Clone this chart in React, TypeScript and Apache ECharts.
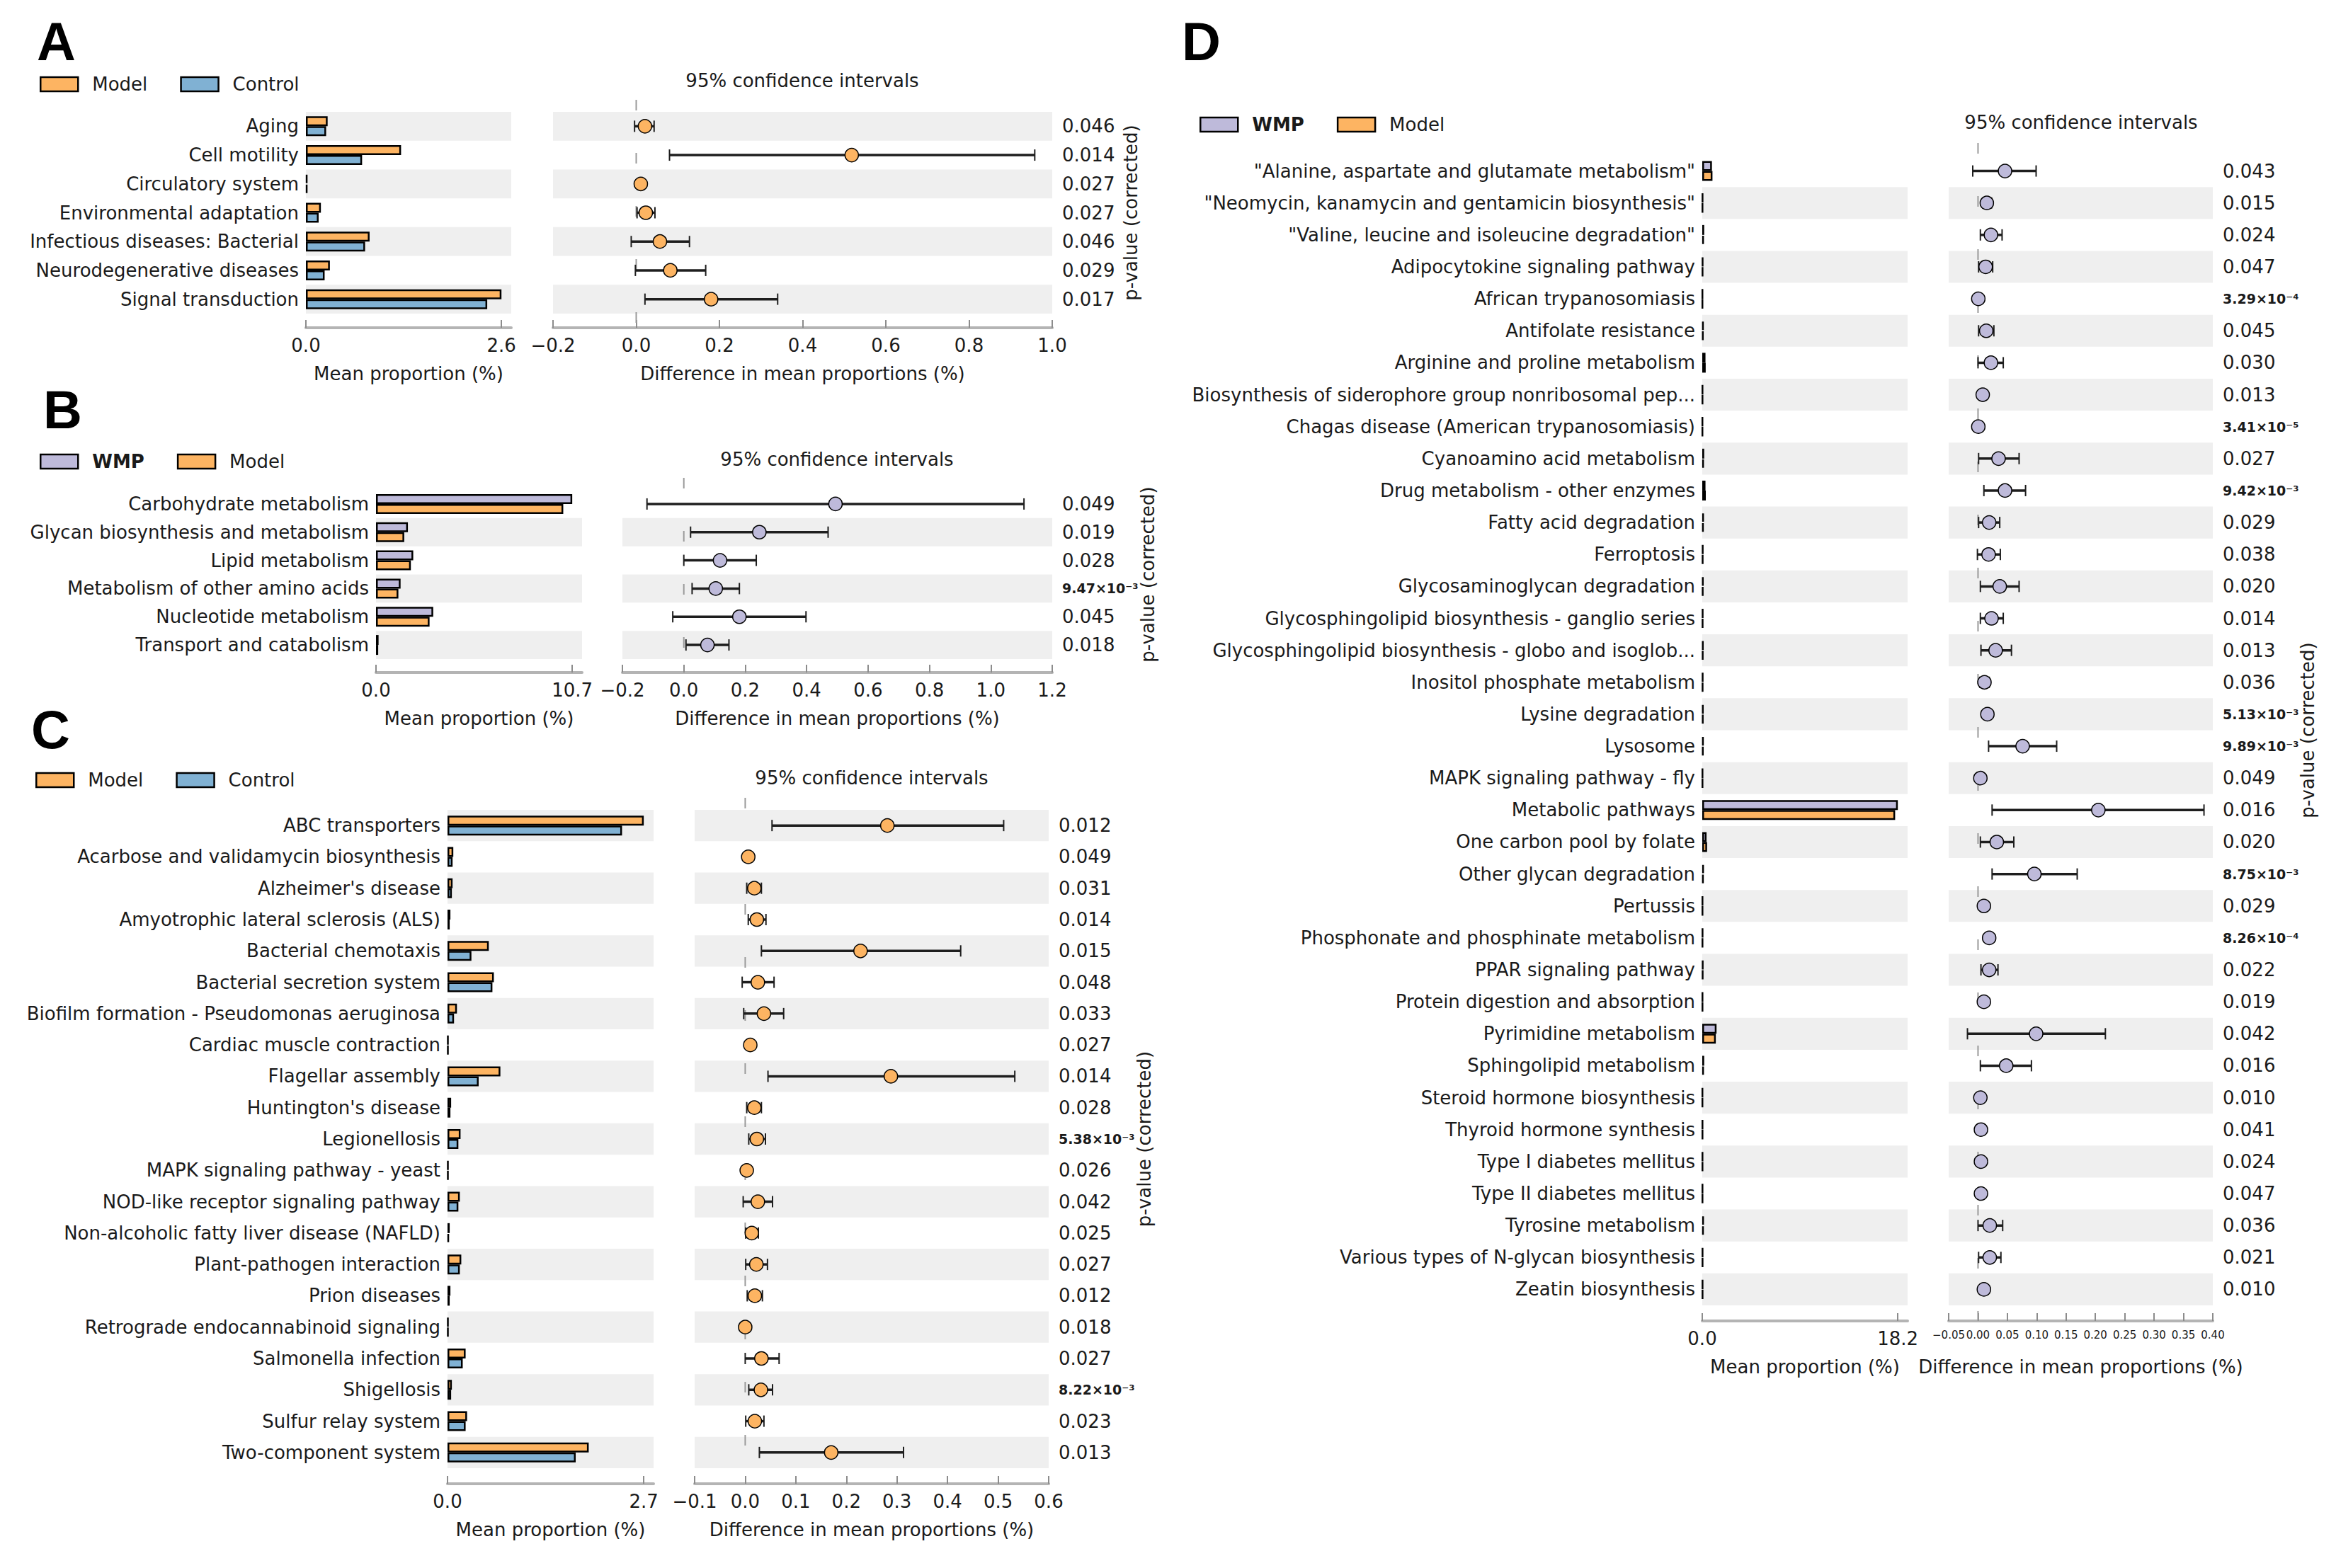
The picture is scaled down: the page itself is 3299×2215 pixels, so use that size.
import React, { useEffect, useRef } from "react";
import * as echarts from "echarts";

// ---------------- Panel A: Model vs Control (level 2) ----------------
const aCategories = [
  "Aging",
  "Cell motility",
  "Circulatory system",
  "Environmental adaptation",
  "Infectious diseases: Bacterial",
  "Neurodegenerative diseases",
  "Signal transduction",
];
const aModel = [0.29, 1.27, 0.02, 0.2, 0.85, 0.32, 2.61];
const aControl = [0.27, 0.75, 0.02, 0.17, 0.79, 0.25, 2.42];
const aDiff = [0.021, 0.518, 0.011, 0.023, 0.057, 0.082, 0.18];
const aLow = [-0.004, 0.08, 0.005, 0.002, -0.012, -0.002, 0.021];
const aHigh = [0.043, 0.958, 0.017, 0.045, 0.128, 0.167, 0.34];
const aPValues = ["0.046", "0.014", "0.027", "0.027", "0.046", "0.029", "0.017"];
const aCiScale = [-0.2, 1.0, 0.2];

// ---------------- Panel B: WMP vs Model (level 2) ----------------
const bCategories = [
  "Carbohydrate metabolism",
  "Glycan biosynthesis and metabolism",
  "Lipid metabolism",
  "Metabolism of other amino acids",
  "Nucleotide metabolism",
  "Transport and catabolism",
];
const bWmp = [10.7, 1.74, 2.03, 1.34, 3.12, 0.14];
const bModel = [10.21, 1.54, 1.9, 1.22, 2.92, 0.12];
const bDiff = [0.494, 0.246, 0.118, 0.104, 0.181, 0.077];
const bLow = [-0.12, 0.022, 0.0, 0.027, -0.036, 0.007];
const bHigh = [1.108, 0.47, 0.236, 0.181, 0.398, 0.147];
const bPValues = ["0.049", "0.019", "0.028", "9.47×10⁻³", "0.045", "0.018"];
const bCiScale = [-0.2, 1.2, 0.2];

// ---------------- Panel C: Model vs Control (level 3) ----------------
const cCategories = [
  "ABC transporters",
  "Acarbose and validamycin biosynthesis",
  "Alzheimer's disease",
  "Amyotrophic lateral sclerosis (ALS)",
  "Bacterial chemotaxis",
  "Bacterial secretion system",
  "Biofilm formation - Pseudomonas aeruginosa",
  "Cardiac muscle contraction",
  "Flagellar assembly",
  "Huntington's disease",
  "Legionellosis",
  "MAPK signaling pathway - yeast",
  "NOD-like receptor signaling pathway",
  "Non-alcoholic fatty liver disease (NAFLD)",
  "Plant-pathogen interaction",
  "Prion diseases",
  "Retrograde endocannabinoid signaling",
  "Salmonella infection",
  "Shigellosis",
  "Sulfur relay system",
  "Two-component system",
];
const cModel = [2.71, 0.08, 0.07, 0.04, 0.57, 0.64, 0.13, 0.01, 0.73, 0.05, 0.18, 0.01, 0.17, 0.03, 0.19, 0.04, 0.01, 0.25, 0.06, 0.27, 1.95];
const cControl = [2.41, 0.07, 0.06, 0.03, 0.33, 0.62, 0.09, 0.01, 0.43, 0.04, 0.15, 0.01, 0.15, 0.02, 0.17, 0.03, 0.01, 0.21, 0.05, 0.25, 1.77];
const cDiff = [0.281, 0.006, 0.018, 0.023, 0.228, 0.025, 0.037, 0.01, 0.288, 0.018, 0.023, 0.003, 0.025, 0.013, 0.022, 0.019, 0.0, 0.032, 0.031, 0.019, 0.17];
const cLow = [0.053, 0.003, 0.003, 0.006, 0.032, -0.006, -0.003, 0.007, 0.045, 0.003, 0.007, 0.001, -0.004, 0.001, 0.001, 0.004, -0.002, 0.0, 0.007, 0.001, 0.028];
const cHigh = [0.511, 0.009, 0.032, 0.041, 0.426, 0.057, 0.076, 0.013, 0.533, 0.032, 0.04, 0.005, 0.054, 0.026, 0.044, 0.034, 0.002, 0.067, 0.054, 0.037, 0.313];
const cPValues = ["0.012", "0.049", "0.031", "0.014", "0.015", "0.048", "0.033", "0.027", "0.014", "0.028", "5.38×10⁻³", "0.026", "0.042", "0.025", "0.027", "0.012", "0.018", "0.027", "8.22×10⁻³", "0.023", "0.013"];
const cCiScale = [-0.1, 0.6, 0.1];

// ---------------- Panel D: WMP vs Model (level 3) ----------------
const dCategories = [
  "\"Alanine, aspartate and glutamate metabolism\"",
  "\"Neomycin, kanamycin and gentamicin biosynthesis\"",
  "\"Valine, leucine and isoleucine degradation\"",
  "Adipocytokine signaling pathway",
  "African trypanosomiasis",
  "Antifolate resistance",
  "Arginine and proline metabolism",
  "Biosynthesis of siderophore group nonribosomal pep...",
  "Chagas disease (American trypanosomiasis)",
  "Cyanoamino acid metabolism",
  "Drug metabolism - other enzymes",
  "Fatty acid degradation",
  "Ferroptosis",
  "Glycosaminoglycan degradation",
  "Glycosphingolipid biosynthesis - ganglio series",
  "Glycosphingolipid biosynthesis - globo and isoglob...",
  "Inositol phosphate metabolism",
  "Lysine degradation",
  "Lysosome",
  "MAPK signaling pathway - fly",
  "Metabolic pathways",
  "One carbon pool by folate",
  "Other glycan degradation",
  "Pertussis",
  "Phosphonate and phosphinate metabolism",
  "PPAR signaling pathway",
  "Protein digestion and absorption",
  "Pyrimidine metabolism",
  "Sphingolipid metabolism",
  "Steroid hormone biosynthesis",
  "Thyroid hormone synthesis",
  "Type I diabetes mellitus",
  "Type II diabetes mellitus",
  "Tyrosine metabolism",
  "Various types of N-glycan biosynthesis",
  "Zeatin biosynthesis",
];
const dWmp = [0.9, 0.05, 0.18, 0.06, 0.03, 0.12, 0.3, 0.04, 0.03, 0.18, 0.3, 0.15, 0.08, 0.1, 0.07, 0.1, 0.07, 0.1, 0.12, 0.04, 18.2, 0.4, 0.15, 0.04, 0.05, 0.08, 0.04, 1.33, 0.18, 0.03, 0.04, 0.04, 0.04, 0.15, 0.05, 0.05];
const dModel = [0.95, 0.04, 0.15, 0.05, 0.03, 0.1, 0.32, 0.04, 0.03, 0.15, 0.33, 0.12, 0.07, 0.08, 0.06, 0.08, 0.06, 0.09, 0.1, 0.04, 17.95, 0.45, 0.12, 0.04, 0.04, 0.07, 0.04, 1.26, 0.15, 0.03, 0.04, 0.04, 0.04, 0.13, 0.05, 0.05];
const dDiff = [0.046, 0.015, 0.022, 0.013, 0.0005, 0.014, 0.022, 0.008, 0.0005, 0.035, 0.046, 0.019, 0.018, 0.037, 0.023, 0.03, 0.011, 0.016, 0.076, 0.004, 0.205, 0.032, 0.096, 0.01, 0.019, 0.019, 0.01, 0.099, 0.048, 0.004, 0.005, 0.005, 0.005, 0.02, 0.02, 0.01];
const dLow = [-0.009, 0.008, 0.004, 0.001, 0.0002, 0.001, 0.0, 0.006, 0.0002, 0.001, 0.01, 0.001, -0.001, 0.004, 0.004, 0.005, 0.003, 0.01, 0.018, 0.002, 0.024, 0.004, 0.024, 0.007, 0.016, 0.005, 0.007, -0.018, 0.004, 0.003, 0.004, 0.004, 0.004, 0.0, 0.001, 0.008];
const dHigh = [0.099, 0.023, 0.041, 0.025, 0.0008, 0.027, 0.043, 0.01, 0.0008, 0.07, 0.081, 0.037, 0.038, 0.07, 0.043, 0.057, 0.019, 0.022, 0.134, 0.006, 0.385, 0.061, 0.169, 0.013, 0.022, 0.034, 0.013, 0.217, 0.091, 0.005, 0.006, 0.006, 0.006, 0.042, 0.039, 0.012];
const dPValues = ["0.043", "0.015", "0.024", "0.047", "3.29×10⁻⁴", "0.045", "0.030", "0.013", "3.41×10⁻⁵", "0.027", "9.42×10⁻³", "0.029", "0.038", "0.020", "0.014", "0.013", "0.036", "5.13×10⁻³", "9.89×10⁻³", "0.049", "0.016", "0.020", "8.75×10⁻³", "0.029", "8.26×10⁻⁴", "0.022", "0.019", "0.042", "0.016", "0.010", "0.041", "0.024", "0.047", "0.036", "0.021", "0.010"];
const dCiScale = [-0.05, 0.4, 0.05];

// ---------------- Styles ----------------
const FONT = "DejaVu Sans";
const ORANGE = "#fdb462";
const BLUE = "#80b1d3";
const PURPLE = "#bebada";
const BAND = "#efefef";
const TEXT = "#1a1a1a";
const SPINE = "#b4b4b4";

const panels = [
  {
    letter: "A",
    cats: aCategories,
    s1: { name: "Model", values: aModel, color: ORANGE, bold: false },
    s2: { name: "Control", values: aControl, color: BLUE, bold: false },
    diff: aDiff, lo: aLow, hi: aHigh, p: aPValues, ci: aCiScale, ciDec: 1, ciFont: 26, meanColor: ORANGE,
    L: { barLeft: 432, barWidth: 290, ciLeft: 781, ciWidth: 705, top: 158, height: 285, spine: 20,
         legendLeft: 56, legendY: 116, ciTitleX: 1133, ciTitleY: 114, letterX: 52, letterY: 58, pLabelX: 1597 },
  },
  {
    letter: "B",
    cats: bCategories,
    s1: { name: "WMP", values: bWmp, color: PURPLE, bold: true },
    s2: { name: "Model", values: bModel, color: ORANGE, bold: false },
    diff: bDiff, lo: bLow, hi: bHigh, p: bPValues, ci: bCiScale, ciDec: 1, ciFont: 26, meanColor: PURPLE,
    L: { barLeft: 531, barWidth: 291, ciLeft: 879, ciWidth: 607, top: 692, height: 239, spine: 19,
         legendLeft: 56, legendY: 649, ciTitleX: 1182, ciTitleY: 649, letterX: 61, letterY: 578, pLabelX: 1621 },
  },
  {
    letter: "C",
    cats: cCategories,
    s1: { name: "Model", values: cModel, color: ORANGE, bold: false },
    s2: { name: "Control", values: cControl, color: BLUE, bold: false },
    diff: cDiff, lo: cLow, hi: cHigh, p: cPValues, ci: cCiScale, ciDec: 1, ciFont: 26, meanColor: ORANGE,
    L: { barLeft: 632, barWidth: 291, ciLeft: 981, ciWidth: 500, top: 1144, height: 930, spine: 22,
         legendLeft: 50, legendY: 1099, ciTitleX: 1231, ciTitleY: 1099, letterX: 44, letterY: 1030, pLabelX: 1616 },
  },
  {
    letter: "D",
    cats: dCategories,
    s1: { name: "WMP", values: dWmp, color: PURPLE, bold: true },
    s2: { name: "Model", values: dModel, color: ORANGE, bold: false },
    diff: dDiff, lo: dLow, hi: dHigh, p: dPValues, ci: dCiScale, ciDec: 2, ciFont: 15, meanColor: PURPLE,
    L: { barLeft: 2404, barWidth: 290, ciLeft: 2752, ciWidth: 373, top: 219, height: 1625, spine: 22,
         legendLeft: 1694, legendY: 173, ciTitleX: 2939, ciTitleY: 173, letterX: 1669, letterY: 58, pLabelX: 3259 },
  },
];

function signed(v: number, d: number) {
  const s = Math.abs(v).toFixed(d);
  return v < -1e-9 ? "\u2212" + s : s;
}

function buildOption() {
  const grid: any[] = [];
  const xAxis: any[] = [];
  const yAxis: any[] = [];
  const series: any[] = [];
  const legend: any[] = [];
  const graphic: any[] = [];

  const axisLine = { show: true, lineStyle: { color: SPINE, width: 4 } };
  const axisTick = { show: true, inside: true, length: 11, lineStyle: { color: "#8c8c8c", width: 2 } };
  const labelStyle = { fontFamily: FONT, fontSize: 26, color: TEXT };

  panels.forEach((p) => {
    const L = p.L;
    const n = p.cats.length;
    const bands = n % 2 === 1 ? [BAND, "rgba(0,0,0,0)"] : ["rgba(0,0,0,0)", BAND];
    const maxMean = Math.max(...p.s1.values, ...p.s2.values);

    const gBar = grid.length;
    grid.push({ left: L.barLeft, top: L.top, width: L.barWidth, height: L.height });
    const gCi = grid.length;
    grid.push({ left: L.ciLeft, top: L.top, width: L.ciWidth, height: L.height });
    const gZero = grid.length;
    grid.push({ left: L.ciLeft, top: L.top - 17, width: L.ciWidth, height: L.height + 17 + L.spine });

    // x axes
    const xBar = xAxis.length;
    xAxis.push({
      type: "value", gridIndex: gBar, min: 0, max: maxMean * 1.05, offset: L.spine,
      axisLine, axisTick: { ...axisTick, customValues: [0, maxMean] },
      splitLine: { show: false },
      axisLabel: { ...labelStyle, margin: 12, customValues: [0, maxMean], formatter: (v: number) => v.toFixed(1) },
      name: "Mean proportion (%)", nameLocation: "middle", nameGap: 52,
      nameTextStyle: { fontFamily: FONT, fontSize: 26, color: TEXT },
    });
    const xCi = xAxis.length;
    xAxis.push({
      type: "value", gridIndex: gCi, min: p.ci[0], max: p.ci[1], interval: p.ci[2], offset: L.spine,
      axisLine, axisTick, splitLine: { show: false },
      axisLabel: {
        ...labelStyle, fontSize: p.ciFont, margin: 12, showMinLabel: true, showMaxLabel: true, hideOverlap: false,
        formatter: (v: number) => signed(v, p.ciDec),
      },
      name: "Difference in mean proportions (%)", nameLocation: "middle", nameGap: 52,
      nameTextStyle: { fontFamily: FONT, fontSize: 26, color: TEXT },
    });
    const xZero = xAxis.length;
    xAxis.push({ type: "value", gridIndex: gZero, min: p.ci[0], max: p.ci[1], show: false });

    // y axes
    const yBar = yAxis.length;
    yAxis.push({
      type: "category", gridIndex: gBar, data: p.cats, inverse: true,
      axisLine: { show: false }, axisTick: { show: false },
      axisLabel: { ...labelStyle, margin: 10, interval: 0 },
      splitLine: { show: false },
      splitArea: { show: true, areaStyle: { color: bands } },
    });
    const yCi = yAxis.length;
    yAxis.push({
      type: "category", gridIndex: gCi, data: p.cats, inverse: true,
      axisLine: { show: false }, axisTick: { show: false }, axisLabel: { show: false },
      splitLine: { show: false },
      splitArea: { show: true, areaStyle: { color: bands } },
    });
    yAxis.push({
      type: "category", gridIndex: gCi, data: p.cats, inverse: true, position: "right",
      axisLine: { show: false }, axisTick: { show: false }, splitLine: { show: false },
      axisLabel: {
        ...labelStyle, margin: 14, interval: 0,
        formatter: (_v: string, i: number) => (p.p[i].indexOf("×") >= 0 ? "{s|" + p.p[i] + "}" : p.p[i]),
        rich: { s: { fontFamily: FONT, fontSize: 19, fontWeight: "bold", color: TEXT } },
      },
    });
    const yZero = yAxis.length;
    yAxis.push({ type: "value", gridIndex: gZero, min: 0, max: 1, show: false });

    // bars
    [p.s1, p.s2].forEach((s) => {
      series.push({
        type: "bar", name: s.name, xAxisIndex: xBar, yAxisIndex: yBar,
        data: s.values, barWidth: 14, barGap: "0%",
        itemStyle: { color: s.color, borderColor: "#000", borderWidth: 2.5 },
        silent: true,
      });
    });

    // zero reference line (dashed), drawn from top to bottom
    series.push({
      type: "line", xAxisIndex: xZero, yAxisIndex: yZero, data: [[0, 1], [0, 0]],
      symbol: "none", lineStyle: { color: "#9a9a9a", width: 2, type: [15, 60] }, silent: true, z: 1,
    });

    // confidence interval bars
    series.push({
      type: "custom", xAxisIndex: xCi, yAxisIndex: yCi,
      data: p.lo.map((lo, i) => [lo, p.hi[i], i]),
      encode: { x: [0, 1], y: 2 },
      silent: true, z: 3,
      renderItem: (_params: any, api: any) => {
        const idx = api.value(2);
        const a = api.coord([api.value(0), idx]);
        const b = api.coord([api.value(1), idx]);
        const h = 8;
        const st = { stroke: "#1e1e1e", lineWidth: 3.5 };
        const cap = { stroke: "#1e1e1e", lineWidth: 2 };
        return {
          type: "group",
          children: [
            { type: "line", shape: { x1: a[0], y1: a[1], x2: b[0], y2: b[1] }, style: st },
            { type: "line", shape: { x1: a[0], y1: a[1] - h, x2: a[0], y2: a[1] + h }, style: cap },
            { type: "line", shape: { x1: b[0], y1: b[1] - h, x2: b[0], y2: b[1] + h }, style: cap },
          ],
        };
      },
    });

    // mean differences
    series.push({
      type: "scatter", xAxisIndex: xCi, yAxisIndex: yCi,
      data: p.diff.map((d, i) => [d, i]),
      symbol: "circle", symbolSize: 19, silent: true, z: 4,
      itemStyle: { color: p.meanColor, borderColor: "#000", borderWidth: 1.5, opacity: 1 },
    });

    legend.push({
      left: L.legendLeft, top: L.legendY - 10, padding: 0, icon: "rect",
      itemWidth: 53, itemHeight: 20, itemGap: 46, selectedMode: false,
      itemStyle: { borderColor: "#000", borderWidth: 2.5 },
      textStyle: { fontFamily: FONT, fontSize: 26, color: TEXT, padding: [0, 0, 0, 15] },
      data: [
        { name: p.s1.name, textStyle: { fontWeight: p.s1.bold ? "bold" : "normal" } },
        { name: p.s2.name, textStyle: { fontWeight: p.s2.bold ? "bold" : "normal" } },
      ],
    });

    graphic.push({
      type: "text", x: L.letterX, y: L.letterY,
      style: { text: p.letter, fontFamily: "Liberation Sans", fontWeight: "bold", fontSize: 76, fill: "#000", align: "left", verticalAlign: "middle" },
    });
    graphic.push({
      type: "text", x: L.ciTitleX, y: L.ciTitleY,
      style: { text: "95% confidence intervals", fontFamily: FONT, fontSize: 26, fill: TEXT, align: "center", verticalAlign: "middle" },
    });
    graphic.push({
      type: "text", x: L.pLabelX, y: L.top + L.height / 2, rotation: Math.PI / 2,
      style: { text: "p-value (corrected)", fontFamily: FONT, fontSize: 26, fill: TEXT, align: "center", verticalAlign: "middle" },
    });
  });

  return {
    animation: false,
    backgroundColor: "#ffffff",
    textStyle: { fontFamily: FONT },
    grid, xAxis, yAxis, series, legend, graphic,
  };
}

export default function App() {
  const ref = useRef<HTMLDivElement>(null);
  useEffect(() => {
    document.body.style.margin = "0";
    document.body.style.overflow = "hidden";
    if (!ref.current) return;
    const chart = echarts.init(ref.current, undefined, { renderer: "svg" });
    chart.setOption(buildOption());
    return () => chart.dispose();
  }, []);
  return <div ref={ref} style={{ width: 3299, height: 2215, position: "absolute", left: 0, top: 0 }} />;
}
